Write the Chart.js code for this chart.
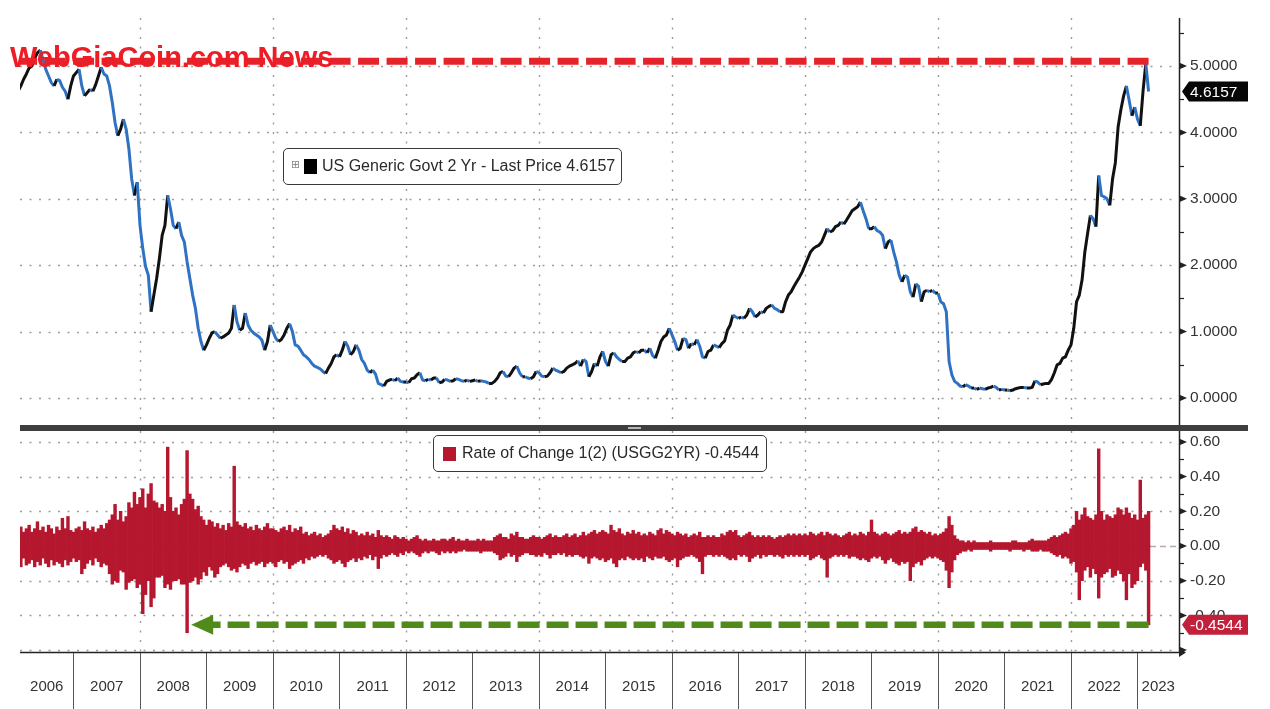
<!DOCTYPE html>
<html>
<head>
<meta charset="utf-8">
<title>US Generic Govt 2 Yr</title>
<script src="https://cdn.jsdelivr.net/npm/chart.js@4.4.1/dist/chart.umd.min.js"></script>
<style>
    html, body { margin: 0; padding: 0; background: #fff; }
    #page { position: relative; width: 1270px; height: 709px; overflow: hidden; font-family: 'Liberation Sans', Arial, sans-serif; }
    canvas { position: absolute; left: 0; }
    #priceChart { top: 0; }
    #rocChart { top: 425px; }
    .divider { position: absolute; left: 20px; top: 425px; width: 1228px; height: 6px; background: #3e3e3e; }
    .grip { position: absolute; left: 628px; top: 427px; width: 13px; height: 2px; background: #b5b5b5; }
    .legend { position: absolute; box-sizing: border-box; border: 1.5px solid #3a3a3a; border-radius: 5px; background: #fff; color: #2a2a2a; font-size: 16px; }
    .legend span { position: absolute; }
    .legend .text { top: 0; line-height: 34px; white-space: nowrap; }
    .legend .expander { font: 11px 'DejaVu Sans', sans-serif; color: #888; top: 10px; line-height: 12px; }
    .watermark { position: absolute; left: 10px; top: 43px; font: bold 29px/29px 'Liberation Sans', Arial, sans-serif; color: #ee1c25; white-space: nowrap; }
</style>
</head>
<body>
<div id="page">
    <canvas id="priceChart" width="1270" height="425"></canvas>
    <canvas id="rocChart" width="1270" height="284"></canvas>
    <div class="divider"></div>
    <div class="grip"></div>
    <div class="legend" style="left:283px; top:148px; width:339px; height:37px;">
        <span class="expander" style="left:7px;">&#8862;</span>
        <span style="left:20px; top:10px; width:13px; height:15px; background:#000;"></span>
        <span class="text" style="left:38px;">US Generic Govt 2 Yr - Last Price 4.6157</span>
    </div>
    <div class="legend" style="left:433px; top:435px; width:334px; height:37px;">
        <span style="left:9px; top:11px; width:13px; height:14px; background:#b5172f;"></span>
        <span class="text" style="left:28px;">Rate of Change 1(2) (USGG2YR) -0.4544</span>
    </div>
    <div class="watermark">WebGiaCoin.com News</div>
</div>

<script>
// Half-monthly readings, first half of March 2006 to first half of March 2023
const firstPeriod = 2006 + 2 / 12;
const periodLength = 1 / 24;

// US Generic Govt 2 Yr yield (%)
const yield2y = [
    4.62, 4.70, 4.80, 4.88, 4.97, 5.00, 5.12, 5.20, 5.24, 5.10, 4.95, 4.85, 4.75, 4.70, 4.80, 4.78, 4.68, 4.62, 4.50, 4.70, // 2006
    4.85, 4.90, 4.95, 4.70, 4.55, 4.60, 4.65, 4.62, 4.72, 4.85, 4.98, 4.88, 4.85, 4.70, 4.45, 4.15, 3.95, 4.05, 4.20, 4.05, 3.75, 3.30, 3.05, 3.25, // 2007
    2.60, 2.25, 1.98, 1.85, 1.30, 1.55, 1.80, 2.10, 2.45, 2.60, 3.05, 2.85, 2.60, 2.55, 2.65, 2.45, 2.35, 2.05, 1.80, 1.55, 1.35, 1.05, 0.85, 0.72, // 2008
    0.80, 0.90, 0.98, 1.00, 0.95, 0.90, 0.92, 0.95, 0.98, 1.05, 1.40, 1.15, 1.02, 1.05, 1.28, 1.10, 1.02, 0.98, 0.95, 0.92, 0.87, 0.72, 0.85, 1.10, // 2009
    1.00, 0.90, 0.85, 0.88, 0.95, 1.05, 1.12, 1.00, 0.80, 0.78, 0.72, 0.65, 0.62, 0.58, 0.52, 0.48, 0.46, 0.44, 0.40, 0.37, 0.45, 0.52, 0.62, 0.65, // 2010
    0.62, 0.72, 0.85, 0.78, 0.65, 0.70, 0.80, 0.72, 0.58, 0.52, 0.42, 0.38, 0.42, 0.36, 0.22, 0.20, 0.18, 0.25, 0.27, 0.28, 0.26, 0.30, 0.25, 0.24, // 2011
    0.24, 0.23, 0.29, 0.30, 0.35, 0.38, 0.27, 0.26, 0.28, 0.27, 0.30, 0.30, 0.23, 0.24, 0.28, 0.27, 0.25, 0.26, 0.29, 0.28, 0.26, 0.25, 0.27, 0.25, // 2012
    0.26, 0.27, 0.25, 0.26, 0.25, 0.24, 0.22, 0.22, 0.25, 0.30, 0.38, 0.40, 0.33, 0.32, 0.38, 0.45, 0.48, 0.38, 0.32, 0.32, 0.30, 0.29, 0.32, 0.40, // 2013
    0.38, 0.33, 0.32, 0.33, 0.38, 0.45, 0.42, 0.40, 0.38, 0.40, 0.45, 0.48, 0.50, 0.52, 0.56, 0.48, 0.58, 0.55, 0.32, 0.40, 0.52, 0.48, 0.62, 0.70, // 2014
    0.55, 0.48, 0.65, 0.68, 0.62, 0.58, 0.55, 0.55, 0.60, 0.62, 0.68, 0.70, 0.68, 0.72, 0.72, 0.68, 0.75, 0.64, 0.60, 0.72, 0.85, 0.92, 0.95, 1.05, // 2015
    0.95, 0.85, 0.72, 0.75, 0.90, 0.88, 0.75, 0.82, 0.80, 0.88, 0.78, 0.62, 0.60, 0.70, 0.72, 0.80, 0.78, 0.76, 0.82, 0.86, 1.02, 1.10, 1.25, 1.22, // 2016
    1.20, 1.22, 1.20, 1.25, 1.35, 1.30, 1.22, 1.25, 1.30, 1.28, 1.35, 1.38, 1.40, 1.35, 1.33, 1.30, 1.30, 1.45, 1.55, 1.60, 1.68, 1.75, 1.82, 1.90, // 2017
    2.00, 2.10, 2.20, 2.25, 2.28, 2.30, 2.35, 2.45, 2.55, 2.50, 2.52, 2.58, 2.60, 2.65, 2.62, 2.68, 2.75, 2.82, 2.85, 2.88, 2.95, 2.82, 2.70, 2.55, // 2018
    2.55, 2.58, 2.52, 2.50, 2.45, 2.25, 2.35, 2.38, 2.20, 2.05, 1.85, 1.75, 1.85, 1.82, 1.60, 1.52, 1.72, 1.68, 1.45, 1.60, 1.62, 1.60, 1.62, 1.58, // 2019
    1.58, 1.45, 1.42, 1.30, 0.55, 0.35, 0.25, 0.22, 0.18, 0.17, 0.20, 0.18, 0.15, 0.15, 0.13, 0.15, 0.14, 0.13, 0.15, 0.16, 0.18, 0.16, 0.12, 0.13, // 2020
    0.12, 0.12, 0.11, 0.12, 0.14, 0.15, 0.16, 0.16, 0.15, 0.15, 0.16, 0.26, 0.24, 0.20, 0.21, 0.22, 0.22, 0.28, 0.38, 0.50, 0.52, 0.60, 0.62, 0.72, // 2021
    0.80, 1.05, 1.45, 1.55, 1.78, 2.20, 2.48, 2.75, 2.70, 2.58, 3.35, 3.05, 3.03, 3.00, 2.90, 3.30, 3.54, 4.08, 4.34, 4.55, 4.70, 4.48, 4.25, 4.38, // 2022
    4.20, 4.10, 4.62, 5.04, 4.6157 // 2023
];

// Rate of change, largest rise in each half month
const rocUp = [
    0.09, 0.11, 0.08, 0.10, 0.12, 0.08, 0.10, 0.14, 0.09, 0.11, 0.08, 0.12, 0.10, 0.07, 0.11, 0.09, 0.16, 0.10, 0.17, 0.09, // 2006
    0.08, 0.10, 0.11, 0.09, 0.14, 0.10, 0.09, 0.11, 0.08, 0.10, 0.12, 0.10, 0.13, 0.15, 0.18, 0.24, 0.15, 0.20, 0.14, 0.17, 0.25, 0.22, 0.31, 0.24, // 2007
    0.28, 0.33, 0.22, 0.30, 0.36, 0.26, 0.25, 0.22, 0.24, 0.20, 0.57, 0.28, 0.20, 0.22, 0.18, 0.24, 0.27, 0.55, 0.30, 0.27, 0.21, 0.23, 0.17, 0.15, // 2008
    0.12, 0.15, 0.14, 0.11, 0.13, 0.10, 0.12, 0.09, 0.13, 0.11, 0.46, 0.14, 0.12, 0.11, 0.13, 0.10, 0.11, 0.09, 0.12, 0.10, 0.09, 0.11, 0.13, 0.10, // 2009
    0.10, 0.09, 0.08, 0.10, 0.11, 0.09, 0.12, 0.08, 0.10, 0.09, 0.11, 0.07, 0.08, 0.06, 0.07, 0.08, 0.06, 0.07, 0.05, 0.06, 0.07, 0.09, 0.12, 0.10, // 2010
    0.09, 0.11, 0.08, 0.10, 0.07, 0.09, 0.08, 0.06, 0.07, 0.06, 0.08, 0.06, 0.07, 0.05, 0.09, 0.06, 0.05, 0.06, 0.05, 0.04, 0.06, 0.05, 0.04, 0.05, // 2011
    0.04, 0.03, 0.04, 0.05, 0.06, 0.04, 0.03, 0.04, 0.03, 0.03, 0.04, 0.03, 0.03, 0.04, 0.04, 0.03, 0.04, 0.05, 0.03, 0.04, 0.03, 0.03, 0.04, 0.03, // 2012
    0.03, 0.03, 0.04, 0.03, 0.04, 0.03, 0.03, 0.03, 0.05, 0.06, 0.07, 0.05, 0.05, 0.04, 0.07, 0.06, 0.08, 0.05, 0.05, 0.04, 0.04, 0.05, 0.06, 0.05, // 2013
    0.05, 0.04, 0.05, 0.06, 0.07, 0.05, 0.06, 0.05, 0.05, 0.06, 0.07, 0.05, 0.06, 0.07, 0.05, 0.06, 0.08, 0.06, 0.07, 0.08, 0.09, 0.07, 0.08, 0.09, // 2014
    0.08, 0.07, 0.12, 0.09, 0.08, 0.10, 0.07, 0.06, 0.08, 0.07, 0.09, 0.07, 0.08, 0.06, 0.07, 0.06, 0.08, 0.07, 0.06, 0.09, 0.10, 0.07, 0.09, 0.08, // 2015
    0.07, 0.06, 0.08, 0.07, 0.06, 0.07, 0.05, 0.06, 0.07, 0.06, 0.08, 0.05, 0.05, 0.06, 0.05, 0.06, 0.05, 0.05, 0.07, 0.06, 0.08, 0.09, 0.08, 0.09, // 2016
    0.06, 0.05, 0.06, 0.07, 0.08, 0.06, 0.05, 0.06, 0.05, 0.06, 0.05, 0.06, 0.05, 0.04, 0.05, 0.06, 0.05, 0.06, 0.07, 0.06, 0.07, 0.06, 0.07, 0.06, // 2017
    0.07, 0.06, 0.08, 0.07, 0.06, 0.07, 0.08, 0.06, 0.08, 0.07, 0.06, 0.07, 0.06, 0.05, 0.06, 0.07, 0.08, 0.06, 0.07, 0.06, 0.08, 0.07, 0.06, 0.08, // 2018
    0.15, 0.08, 0.07, 0.06, 0.07, 0.08, 0.07, 0.06, 0.07, 0.08, 0.09, 0.07, 0.08, 0.07, 0.08, 0.10, 0.11, 0.08, 0.09, 0.08, 0.07, 0.08, 0.06, 0.07, // 2019
    0.06, 0.07, 0.08, 0.10, 0.17, 0.12, 0.06, 0.04, 0.03, 0.03, 0.02, 0.03, 0.02, 0.03, 0.02, 0.02, 0.02, 0.02, 0.02, 0.03, 0.02, 0.02, 0.02, 0.02, // 2020
    0.02, 0.02, 0.02, 0.03, 0.03, 0.02, 0.02, 0.02, 0.02, 0.03, 0.04, 0.03, 0.03, 0.03, 0.03, 0.03, 0.04, 0.05, 0.06, 0.05, 0.06, 0.07, 0.08, 0.07, // 2021
    0.10, 0.12, 0.20, 0.15, 0.18, 0.22, 0.17, 0.16, 0.15, 0.18, 0.56, 0.20, 0.15, 0.18, 0.17, 0.16, 0.18, 0.22, 0.21, 0.18, 0.22, 0.19, 0.16, 0.18, // 2022
    0.15, 0.38, 0.16, 0.18, 0.20 // 2023
];

// Rate of change, largest fall in each half month
const rocDown = [
    -0.09, -0.12, -0.07, -0.11, -0.10, -0.08, -0.12, -0.09, -0.11, -0.07, -0.10, -0.12, -0.08, -0.11, -0.09, -0.10, -0.12, -0.08, -0.11, -0.09, // 2006
    -0.07, -0.09, -0.08, -0.16, -0.13, -0.10, -0.08, -0.11, -0.07, -0.09, -0.12, -0.10, -0.11, -0.16, -0.22, -0.20, -0.21, -0.14, -0.15, -0.25, -0.21, -0.20, -0.19, -0.24, // 2007
    -0.22, -0.39, -0.28, -0.20, -0.35, -0.30, -0.18, -0.18, -0.17, -0.24, -0.22, -0.25, -0.20, -0.20, -0.19, -0.22, -0.22, -0.50, -0.21, -0.20, -0.18, -0.22, -0.19, -0.15, // 2008
    -0.17, -0.12, -0.14, -0.18, -0.16, -0.12, -0.11, -0.10, -0.12, -0.14, -0.13, -0.15, -0.12, -0.10, -0.11, -0.13, -0.10, -0.09, -0.11, -0.10, -0.09, -0.12, -0.10, -0.09, // 2009
    -0.10, -0.12, -0.09, -0.08, -0.10, -0.09, -0.13, -0.11, -0.10, -0.09, -0.08, -0.10, -0.07, -0.08, -0.06, -0.07, -0.06, -0.05, -0.06, -0.05, -0.07, -0.08, -0.10, -0.09, // 2010
    -0.08, -0.10, -0.12, -0.09, -0.08, -0.07, -0.09, -0.07, -0.08, -0.06, -0.07, -0.05, -0.08, -0.06, -0.13, -0.07, -0.05, -0.06, -0.05, -0.04, -0.05, -0.06, -0.04, -0.05, // 2011
    -0.03, -0.04, -0.03, -0.04, -0.05, -0.06, -0.04, -0.03, -0.04, -0.03, -0.03, -0.04, -0.05, -0.03, -0.04, -0.03, -0.04, -0.03, -0.04, -0.03, -0.03, -0.02, -0.03, -0.03, // 2012
    -0.03, -0.03, -0.03, -0.04, -0.03, -0.03, -0.03, -0.03, -0.04, -0.05, -0.08, -0.07, -0.06, -0.04, -0.06, -0.05, -0.09, -0.06, -0.05, -0.04, -0.04, -0.05, -0.05, -0.06, // 2013
    -0.05, -0.06, -0.04, -0.05, -0.07, -0.05, -0.05, -0.04, -0.05, -0.04, -0.06, -0.05, -0.06, -0.05, -0.05, -0.06, -0.07, -0.06, -0.10, -0.07, -0.06, -0.07, -0.08, -0.07, // 2014
    -0.09, -0.08, -0.07, -0.10, -0.12, -0.08, -0.07, -0.08, -0.06, -0.07, -0.08, -0.07, -0.08, -0.07, -0.09, -0.06, -0.07, -0.08, -0.06, -0.07, -0.07, -0.06, -0.08, -0.09, // 2015
    -0.08, -0.07, -0.12, -0.08, -0.07, -0.06, -0.06, -0.05, -0.06, -0.07, -0.09, -0.16, -0.06, -0.05, -0.05, -0.06, -0.05, -0.06, -0.05, -0.06, -0.07, -0.08, -0.07, -0.08, // 2016
    -0.05, -0.06, -0.05, -0.06, -0.09, -0.07, -0.06, -0.05, -0.07, -0.05, -0.06, -0.05, -0.05, -0.06, -0.05, -0.06, -0.07, -0.05, -0.06, -0.05, -0.06, -0.05, -0.06, -0.05, // 2017
    -0.06, -0.05, -0.08, -0.07, -0.06, -0.05, -0.07, -0.08, -0.18, -0.07, -0.06, -0.05, -0.06, -0.05, -0.06, -0.05, -0.07, -0.06, -0.06, -0.07, -0.08, -0.07, -0.08, -0.09, // 2018
    -0.07, -0.06, -0.07, -0.06, -0.08, -0.10, -0.08, -0.07, -0.09, -0.10, -0.11, -0.09, -0.10, -0.09, -0.20, -0.12, -0.10, -0.09, -0.11, -0.08, -0.07, -0.06, -0.07, -0.06, // 2019
    -0.07, -0.08, -0.09, -0.14, -0.24, -0.15, -0.08, -0.05, -0.04, -0.03, -0.03, -0.02, -0.03, -0.02, -0.02, -0.02, -0.02, -0.02, -0.02, -0.03, -0.02, -0.02, -0.02, -0.02, // 2020
    -0.02, -0.02, -0.03, -0.02, -0.02, -0.02, -0.02, -0.03, -0.02, -0.02, -0.03, -0.03, -0.03, -0.02, -0.03, -0.03, -0.03, -0.04, -0.05, -0.06, -0.05, -0.07, -0.06, -0.07, // 2021
    -0.10, -0.09, -0.15, -0.31, -0.20, -0.14, -0.12, -0.18, -0.13, -0.16, -0.30, -0.18, -0.16, -0.15, -0.13, -0.18, -0.17, -0.14, -0.16, -0.20, -0.31, -0.16, -0.24, -0.22, // 2022
    -0.20, -0.12, -0.10, -0.14, -0.4544 // 2023
];

const priceTicks = [0, 1, 2, 3, 4, 5];
const priceMinorTicks = [0.5, 1.5, 2.5, 3.5, 4.5, 5.5];
const rocTicks = [0.6, 0.4, 0.2, 0, -0.2, -0.4];
const rocMarks = [0.6, 0.4, 0.2, 0, -0.2, -0.4, -0.6];
const rocMinorTicks = [0.5, 0.3, 0.1, -0.1, -0.3, -0.5];
const years = [2006, 2007, 2008, 2009, 2010, 2011, 2012, 2013, 2014, 2015, 2016, 2017, 2018, 2019, 2020, 2021, 2022, 2023];
const gridYears = [2008, 2010, 2012, 2014, 2016, 2018, 2020, 2022];

const lastPrice = 4.6157;
const lastChange = -0.4544;
const peakLevel = 5.07;      // March 2023 high, red dashed line
const arrowFrom = 2008.77;   // September 2008 drop, green arrow tip

const xMin = 2006.1955;
const xMax = 2023.6241;

const LINE_UP = '#111111';
const LINE_DOWN = '#2f72c4';
const ROC_RED = '#b5172f';
const GRID = '#9c9c9c';
const AXIS = '#222';

Chart.defaults.font.family = "'Liberation Sans', Arial, sans-serif";
Chart.defaults.color = '#333';
Chart.defaults.animation = false;

const dates = yield2y.map((_, i) => firstPeriod + i * periodLength);
const lastDate = dates[dates.length - 1];

function labelCenter(yr) {
    return (Math.max(yr, xMin) + Math.min(yr + 1, xMax)) / 2;
}

function fixRightAxis(axis) {
    axis.width = 91;
    axis.paddingTop = 0;
    axis.paddingBottom = 0;
}

function drawGrid(chart, levels, zeroLevel) {
    const { ctx, chartArea: a, scales: { x, y } } = chart;
    ctx.save();
    ctx.strokeStyle = GRID;
    ctx.lineWidth = 1.4;
    ctx.setLineDash([2, 7.5]);
    ctx.beginPath();
    levels.forEach(v => {
        const py = Math.round(y.getPixelForValue(v)) + 0.5;
        ctx.moveTo(a.left, py);
        ctx.lineTo(a.right, py);
    });
    gridYears.forEach(yr => {
        const px = Math.round(x.getPixelForValue(yr)) + 0.5;
        ctx.moveTo(px, a.top);
        ctx.lineTo(px, a.bottom);
    });
    ctx.stroke();
    if (zeroLevel !== undefined) {
        const py = Math.round(y.getPixelForValue(zeroLevel)) + 0.5;
        ctx.setLineDash([6, 4]);
        ctx.strokeStyle = '#b9a9a9';
        ctx.beginPath();
        ctx.moveTo(a.left, py);
        ctx.lineTo(a.right, py);
        ctx.stroke();
    }
    ctx.restore();
}

function drawRightAxis(chart, majors, minors) {
    const { ctx, chartArea: a, scales: { y } } = chart;
    ctx.save();
    ctx.strokeStyle = AXIS;
    ctx.fillStyle = AXIS;
    ctx.lineWidth = 1.5;
    ctx.beginPath();
    ctx.moveTo(a.right + 0.5, a.top);
    ctx.lineTo(a.right + 0.5, a.bottom);
    ctx.stroke();
    majors.forEach(v => {
        const py = y.getPixelForValue(v);
        ctx.beginPath();
        ctx.moveTo(a.right, py - 3.5);
        ctx.lineTo(a.right + 8, py);
        ctx.lineTo(a.right, py + 3.5);
        ctx.fill();
    });
    ctx.lineWidth = 1.2;
    minors.forEach(v => {
        const py = Math.round(y.getPixelForValue(v)) + 0.5;
        ctx.beginPath();
        ctx.moveTo(a.right, py);
        ctx.lineTo(a.right + 5, py);
        ctx.stroke();
    });
    ctx.restore();
}

function dashedLevel(ctx, fromX, toX, py, color, width, dash) {
    ctx.save();
    ctx.strokeStyle = color;
    ctx.lineWidth = width;
    ctx.setLineDash(dash);
    ctx.beginPath();
    ctx.moveTo(fromX, py);
    ctx.lineTo(toX, py);
    ctx.stroke();
    ctx.restore();
}

function drawTag(chart, cy, text, bg) {
    const { ctx, chartArea: a } = chart;
    const left = a.right + 3;
    const right = chart.width - 22;
    const h = 20;
    ctx.save();
    ctx.fillStyle = bg;
    ctx.beginPath();
    ctx.moveTo(left, cy);
    ctx.lineTo(left + 7, cy - h / 2);
    ctx.lineTo(right, cy - h / 2);
    ctx.lineTo(right, cy + h / 2);
    ctx.lineTo(left + 7, cy + h / 2);
    ctx.closePath();
    ctx.fill();
    ctx.fillStyle = '#fff';
    ctx.font = "15.5px 'Liberation Sans', Arial, sans-serif";
    ctx.textBaseline = 'middle';
    ctx.fillText(text, left + 8, cy + 1);
    ctx.restore();
}

const pricePanel = {
    id: 'pricePanel',
    beforeDatasetsDraw(chart) {
        drawGrid(chart, priceTicks);
    },
    afterDraw(chart) {
        const { ctx, chartArea: a, scales: { x, y } } = chart;
        const endX = x.getPixelForValue(lastDate);
        dashedLevel(ctx, endX, a.left, y.getPixelForValue(peakLevel), '#e5232b', 7, [21, 7.5]);
        drawRightAxis(chart, priceTicks, priceMinorTicks);
        drawTag(chart, y.getPixelForValue(lastPrice), lastPrice.toFixed(4), '#060606');
    }
};

const rocPanel = {
    id: 'rocPanel',
    beforeDatasetsDraw(chart) {
        drawGrid(chart, rocMarks.filter(v => v !== 0), 0);
    },
    afterDraw(chart) {
        const { ctx, chartArea: a, scales: { x, y } } = chart;
        const endX = x.getPixelForValue(lastDate);
        const py = y.getPixelForValue(lastChange);
        const tipX = x.getPixelForValue(arrowFrom);

        // green arrow back to the 2008 drop
        dashedLevel(ctx, endX, tipX + 20, py, '#4f8a1b', 6.5, [22, 7]);
        ctx.save();
        ctx.fillStyle = '#4f8a1b';
        ctx.beginPath();
        ctx.moveTo(tipX, py);
        ctx.lineTo(tipX + 22, py - 10);
        ctx.lineTo(tipX + 22, py + 10);
        ctx.closePath();
        ctx.fill();
        ctx.restore();

        drawRightAxis(chart, rocMarks, rocMinorTicks);

        // date axis with year boxes
        ctx.save();
        ctx.strokeStyle = AXIS;
        ctx.fillStyle = AXIS;
        ctx.lineWidth = 1.5;
        ctx.beginPath();
        ctx.moveTo(a.left, a.bottom + 0.5);
        ctx.lineTo(a.right, a.bottom + 0.5);
        ctx.stroke();
        ctx.beginPath();
        ctx.moveTo(a.right, a.bottom - 4);
        ctx.lineTo(a.right + 7, a.bottom + 0.5);
        ctx.lineTo(a.right, a.bottom + 5);
        ctx.fill();
        ctx.strokeStyle = '#555';
        ctx.lineWidth = 1;
        ctx.beginPath();
        years.slice(1).forEach(yr => {
            const px = Math.round(x.getPixelForValue(yr)) + 0.5;
            ctx.moveTo(px, a.bottom + 1);
            ctx.lineTo(px, chart.height);
        });
        ctx.stroke();
        ctx.restore();

        drawTag(chart, py, lastChange.toFixed(4), '#c2213c');
    }
};

function initPriceChart() {
    new Chart(document.getElementById('priceChart'), {
        type: 'line',
        data: {
            datasets: [{
                label: 'US Generic Govt 2 Yr - Last Price',
                data: dates.map((t, i) => ({ x: t, y: yield2y[i] })),
                borderColor: LINE_UP,
                borderWidth: 3,
                borderJoinStyle: 'round',
                pointRadius: 0,
                tension: 0,
                segment: {
                    borderColor: c => c.p1.parsed.y >= c.p0.parsed.y ? LINE_UP : LINE_DOWN
                }
            }]
        },
        options: {
            responsive: false,
            layout: { padding: { top: 18, left: 20, right: 0, bottom: 0 } },
            plugins: { legend: { display: false }, tooltip: { enabled: false } },
            scales: {
                x: { type: 'linear', display: false, min: xMin, max: xMax },
                y: {
                    position: 'right',
                    min: -0.4066,
                    max: 5.7229,
                    grid: { display: false, drawTicks: false },
                    border: { display: false },
                    afterBuildTicks: axis => { axis.ticks = priceTicks.map(v => ({ value: v })); },
                    afterFit: fixRightAxis,
                    ticks: {
                        padding: 11,
                        color: '#333',
                        font: { size: 15.5 },
                        callback: v => v.toFixed(4)
                    }
                }
            }
        },
        plugins: [pricePanel]
    });
}

function initRocChart() {
    const barStyle = {
        backgroundColor: ROC_RED,
        borderWidth: 0,
        grouped: false,
        barPercentage: 1,
        categoryPercentage: 1
    };
    new Chart(document.getElementById('rocChart'), {
        type: 'bar',
        data: {
            datasets: [
                Object.assign({ label: 'Rate of Change 1(2) (USGG2YR) rise', data: dates.map((t, i) => ({ x: t, y: rocUp[i] })) }, barStyle),
                Object.assign({ label: 'Rate of Change 1(2) (USGG2YR) fall', data: dates.map((t, i) => ({ x: t, y: rocDown[i] })) }, barStyle)
            ]
        },
        options: {
            responsive: false,
            layout: { padding: { top: 6, left: 20, right: 0, bottom: 0 } },
            plugins: { legend: { display: false }, tooltip: { enabled: false } },
            scales: {
                x: {
                    type: 'linear',
                    offset: false,
                    min: xMin,
                    max: xMax,
                    grid: { display: false, drawTicks: false },
                    border: { display: false },
                    afterBuildTicks: axis => { axis.ticks = years.map(yr => ({ value: labelCenter(yr) })); },
                    afterFit: axis => { axis.height = 57; axis.paddingLeft = 0; axis.paddingRight = 0; },
                    ticks: {
                        autoSkip: false,
                        maxRotation: 0,
                        minRotation: 0,
                        padding: 26,
                        color: '#333',
                        font: { size: 15 },
                        callback: (v, i) => String(years[i])
                    }
                },
                y: {
                    position: 'right',
                    min: -0.611,
                    max: 0.663,
                    grid: { display: false, drawTicks: false },
                    border: { display: false },
                    afterBuildTicks: axis => { axis.ticks = rocTicks.map(v => ({ value: v })); },
                    afterFit: fixRightAxis,
                    ticks: {
                        padding: 11,
                        color: '#333',
                        font: { size: 15.5 },
                        callback: v => v.toFixed(2)
                    }
                }
            }
        },
        plugins: [rocPanel]
    });
}

document.addEventListener('DOMContentLoaded', () => {
    initPriceChart();
    initRocChart();
});
</script>
</body>
</html>
